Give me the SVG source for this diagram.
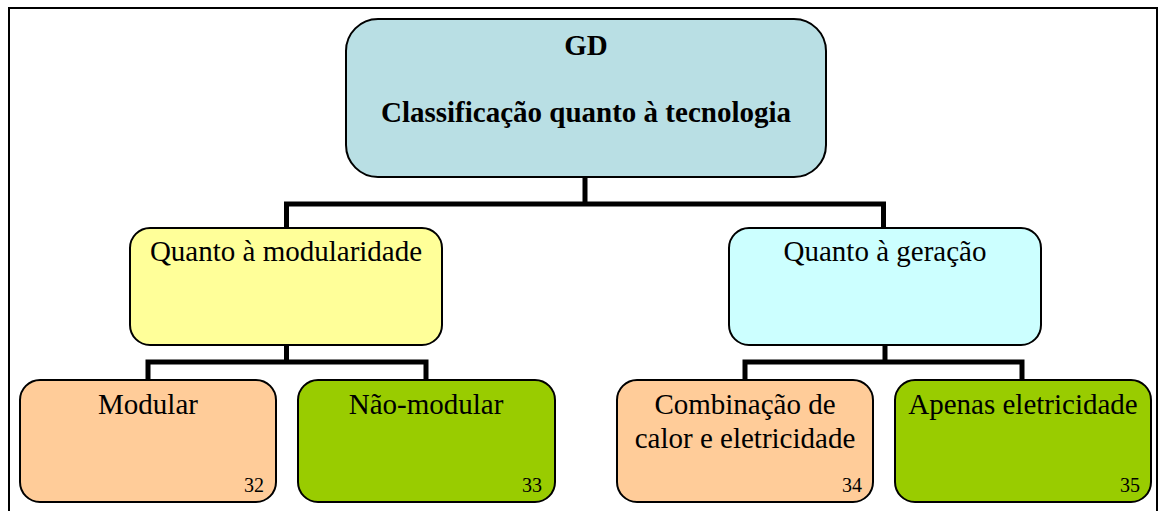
<svg xmlns="http://www.w3.org/2000/svg" width="1161" height="511" viewBox="0 0 1161 511">
<style>
.box{stroke:#000;stroke-width:2}
.t{font-family:"Liberation Serif","Times New Roman",serif;font-size:29px;fill:#000;text-anchor:middle}
.b{font-weight:bold}
.n{font-family:"Liberation Serif","Times New Roman",serif;font-size:20px;fill:#000;text-anchor:end}
.c{fill:none;stroke:#000;stroke-width:5}
</style>
<rect x="0" y="0" width="1161" height="511" fill="#fff"/>
<rect x="9" y="8" width="1148" height="520" fill="none" stroke="#000" stroke-width="2"/>
<g id="connectors">
<path class="c" d="M585 177 V204 M286.5 228 V204 H883.5 V228"/>
<path class="c" d="M286.5 345 V362 M148 380 V362 H426 V380"/>
<path class="c" d="M885 345 V362 M745 380 V362 H1022 V380"/>
</g>
<g id="root">
<rect class="box" x="346" y="19" width="480" height="158" rx="32" fill="#B9DFE4"/>
<text class="t b" x="586" y="55">GD</text>
<text class="t b" x="586" y="122">Classificação quanto à tecnologia</text>
</g>
<g id="modularidade">
<rect class="box" x="130" y="228" width="312" height="117" rx="20" fill="#FFFF99"/>
<text class="t" x="286" y="261">Quanto à modularidade</text>
</g>
<g id="geracao">
<rect class="box" x="729" y="228" width="312" height="117" rx="20" fill="#CCFFFF"/>
<text class="t" x="885" y="261">Quanto à geração</text>
</g>
<g id="modular">
<rect class="box" x="20" y="380" width="256" height="122" rx="20" fill="#FFCC99"/>
<text class="t" x="148" y="414">Modular</text>
<text class="n" x="264" y="492">32</text>
</g>
<g id="nao-modular">
<rect class="box" x="298" y="380" width="257" height="122" rx="20" fill="#99CC00"/>
<text class="t" x="426" y="414">Não-modular</text>
<text class="n" x="542" y="492">33</text>
</g>
<g id="combinacao">
<rect class="box" x="617" y="380" width="256" height="122" rx="20" fill="#FFCC99"/>
<text class="t" x="745" y="414">Combinação de</text>
<text class="t" x="745" y="448">calor e eletricidade</text>
<text class="n" x="862" y="492">34</text>
</g>
<g id="apenas">
<rect class="box" x="895" y="380" width="256" height="122" rx="20" fill="#99CC00"/>
<text class="t" x="1023" y="414">Apenas eletricidade</text>
<text class="n" x="1140" y="492">35</text>
</g>
</svg>
